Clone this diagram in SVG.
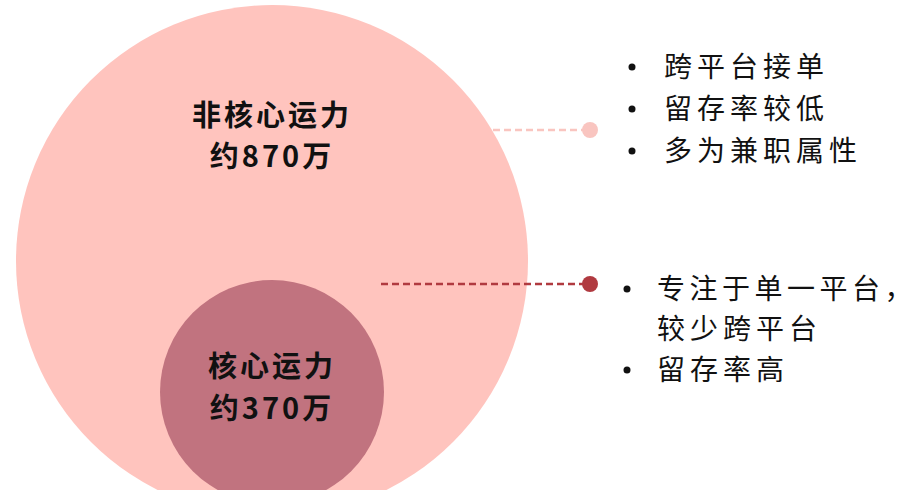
<svg xmlns="http://www.w3.org/2000/svg" width="912" height="490" viewBox="0 0 912 490">
<style>
.lbl{font-family:"Noto Sans CJK SC","Noto Sans",sans-serif;font-weight:700;font-size:29px;fill:#111;text-anchor:middle;letter-spacing:3px}
.item{font-family:"Noto Sans CJK SC","Noto Sans",sans-serif;font-size:28px;fill:#111;letter-spacing:5px}
.bul{fill:#111}
</style>
<rect width="912" height="490" fill="#fff"/>
<g id="noncore">
<circle cx="272" cy="261" r="256" fill="#FFC4BE"/>
<text class="lbl" x="272" y="126">非核心运力</text>
<text class="lbl" x="272" y="167">约870万</text>
</g>
<g id="core">
<circle cx="272" cy="392" r="112" fill="#C1737F"/>
<text class="lbl" x="272" y="377">核心运力</text>
<text class="lbl" x="272" y="419">约370万</text>
</g>
<g id="connectors">
<line x1="493" y1="130" x2="590" y2="130" stroke="#F9C5C0" stroke-width="2.5" stroke-dasharray="7,4"/>
<circle cx="590" cy="130" r="8" fill="#F9C5C0"/>
<line x1="381" y1="284" x2="590" y2="284" stroke="#B03A40" stroke-width="2.5" stroke-dasharray="7,4"/>
<circle cx="590" cy="284" r="8" fill="#B03A40"/>
</g>
<g id="list1">
<circle class="bul" cx="632" cy="67" r="3.5"/>
<circle class="bul" cx="632" cy="109" r="3.5"/>
<circle class="bul" cx="632" cy="151" r="3.5"/>
<text class="item" x="664" y="77">跨平台接单</text>
<text class="item" x="664" y="119">留存率较低</text>
<text class="item" x="664" y="161">多为兼职属性</text>
</g>
<g id="list2">
<circle class="bul" cx="627" cy="289" r="3.5"/>
<circle class="bul" cx="627" cy="370" r="3.5"/>
<text class="item" x="657" y="299" style="letter-spacing:4.5px">专注于单一平台<tspan style="letter-spacing:0">，</tspan></text>
<text class="item" x="657" y="339">较少跨平台</text>
<text class="item" x="657" y="380">留存率高</text>
</g>
</svg>
